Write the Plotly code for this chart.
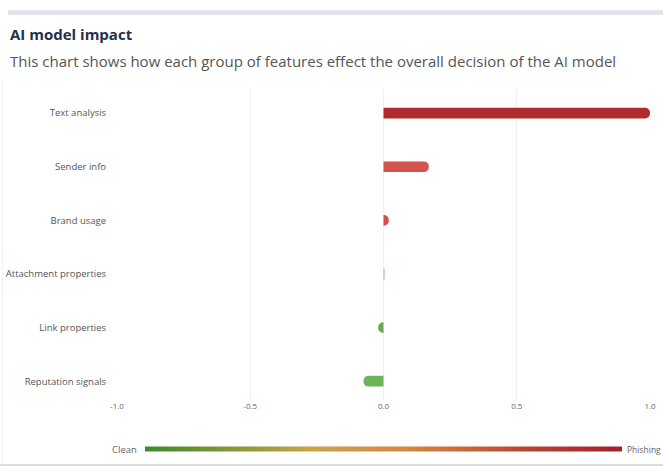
import plotly.graph_objects as go

features = ["Text analysis", "Sender info", "Brand usage", "Attachment properties",
            "Link properties", "Reputation signals"]
impact = [1.0, 0.17, 0.02, 0.003, -0.02, -0.075]
bar_colors = ["#b02a2e", "#d4524e", "#d0504c", "#e8c8c0", "#6aaa50", "#6cb45a"]
x_ticks = [-1.0, -0.5, 0.0, 0.5, 1.0]
x_tick_text = ["-1.0", "-0.5", "0.0", "0.5", "1.0"]
scale_labels = ["Clean", "Phishing"]

W, H = 663, 467
L, R, T, B = 117, 13, 89, 67
PW, PH = W - L - R, H - T - B

def px(x):
    return (x - L) / PW

def py(y):
    return (H - B - y) / PH

FONT = "Open Sans"

fig = go.Figure()
fig.add_trace(go.Bar(
    x=impact, y=features, orientation="h",
    marker=dict(color=bar_colors, line=dict(width=0)),
    width=0.2, showlegend=False, hoverinfo="x+y",
))
# colour scale strip (legend of the colour meaning)
fig.add_trace(go.Scatter(
    x=[0], y=[features[0]], mode="markers",
    marker=dict(size=0.1, opacity=0, color=[0], cmin=-1, cmax=1,
                colorscale=[[0, "#3c8a2a"], [0.35, "#c9a444"], [0.55, "#d8873e"],
                            [0.8, "#b84434"], [1, "#a61e2a"]],
                showscale=True,
                colorbar=dict(orientation="h",
                              x=px(383.5), xanchor="center", y=py(449), yanchor="middle",
                              lenmode="pixels", len=477, thickness=5, xpad=0, ypad=0,
                              outlinewidth=0, showticklabels=False, ticks="")),
    showlegend=False, hoverinfo="skip",
))

fig.update_layout(
    width=W, height=H,
    margin=dict(l=L, r=R, t=T, b=B, autoexpand=False),
    paper_bgcolor="white", plot_bgcolor="white",
    font=dict(family=FONT, color="#555"),
    barcornerradius=5,
    title=dict(text="<b>AI model impact</b>", x=10 / W, xref="container", xanchor="left",
               y=1 - 35 / H, yref="container", yanchor="middle",
               font=dict(size=15, color="#25304a", family=FONT)),
    xaxis=dict(range=[-1.0, 1.0], tickvals=x_ticks, ticktext=x_tick_text,
               showgrid=True, gridcolor="#f0f0f0", gridwidth=1, zeroline=False,
               showline=False, tickfont=dict(size=8, color="#666"), ticks="",
               fixedrange=True, automargin=False),
    yaxis=dict(categoryorder="array", categoryarray=features, range=[5.35, -0.45],
               showgrid=False, zeroline=False, showline=False, automargin=False,
               tickfont=dict(size=9.5, color="#555"), ticks="outside", ticklen=8,
               tickcolor="rgba(0,0,0,0)", fixedrange=True),
    shapes=[
        dict(type="rect", xref="paper", yref="paper", x0=px(8), x1=px(663),
             y0=py(15), y1=py(10), fillcolor="#e3e5eb", line=dict(width=0), layer="below"),
        dict(type="line", xref="paper", yref="paper", x0=px(0), x1=px(663),
             y0=py(465), y1=py(465), line=dict(color="#cfd0d4", width=1.5)),
        dict(type="line", xref="paper", yref="paper", x0=px(2.5), x1=px(2.5),
             y0=py(465), y1=py(80), line=dict(color="#f0f0f2", width=1)),
    ],
    annotations=[
        dict(text="This chart shows how each group of features effect the overall decision of the AI model",
             xref="paper", yref="paper", x=px(8), y=py(61), xanchor="left", yanchor="middle",
             showarrow=False, font=dict(size=15, color="#555", family=FONT)),
        dict(text=scale_labels[0], xref="paper", yref="paper", x=px(139), y=py(449),
             xanchor="right", yanchor="middle", showarrow=False,
             font=dict(size=9.5, color="#666", family=FONT)),
        dict(text=scale_labels[1], xref="paper", yref="paper", x=px(625), y=py(449),
             xanchor="left", yanchor="middle", showarrow=False,
             font=dict(size=8.5, color="#666", family=FONT)),
    ],
)

fig.write_html("out.html")
